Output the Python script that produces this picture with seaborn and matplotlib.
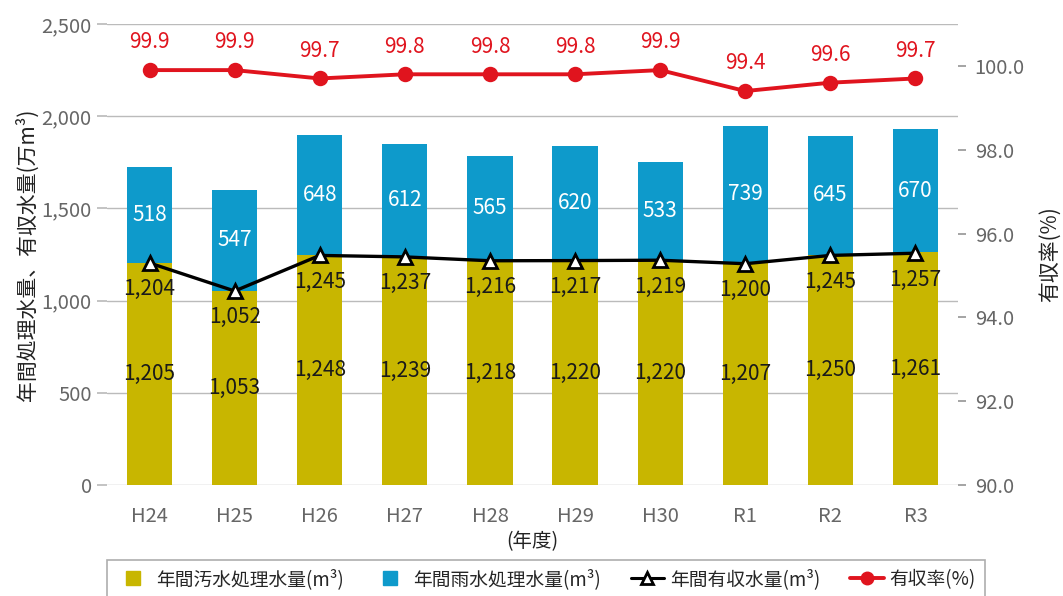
import matplotlib
matplotlib.use("Agg")
import matplotlib.pyplot as plt
import seaborn as sns
import numpy as np
from matplotlib.lines import Line2D
from matplotlib.ticker import FuncFormatter, FixedLocator

years = ["H24", "H25", "H26", "H27", "H28", "H29", "H30", "R1", "R2", "R3"]
sewage = [1205, 1053, 1248, 1239, 1218, 1220, 1220, 1207, 1250, 1261]
rain = [518, 547, 648, 612, 565, 620, 533, 739, 645, 670]
revenue = [1204, 1052, 1245, 1237, 1216, 1217, 1219, 1200, 1245, 1257]
rate = [99.9, 99.9, 99.7, 99.8, 99.8, 99.8, 99.9, 99.4, 99.6, 99.7]

left_ticks = [0, 500, 1000, 1500, 2000, 2500]
right_ticks = [90, 92, 94, 96, 98, 100]

YELLOW = "#C8B600"
BLUE = "#0E9ACB"
RED = "#E0141E"
GRAY = "#666666"

sns.set_theme(style="white")
plt.rcParams["font.family"] = ["Noto Sans CJK JP", "DejaVu Sans"]

fig = plt.figure(figsize=(10.63, 5.96), dpi=100)
ax = fig.add_axes([107 / 1063, 1 - 485 / 596, (958 - 107) / 1063, (485 - 24) / 596])

total = [s + r for s, r in zip(sewage, rain)]
sns.barplot(x=years, y=total, color=BLUE, saturation=1, width=0.53, ax=ax, zorder=2,
            errorbar=None, linewidth=0, edgecolor="none")
sns.barplot(x=years, y=sewage, color=YELLOW, saturation=1, width=0.53, ax=ax, zorder=2,
            errorbar=None, linewidth=0, edgecolor="none")
sns.pointplot(x=years, y=revenue, color="black", markers="^", linestyles="-", ax=ax,
              errorbar=None, linewidth=2.4, markersize=10, markerfacecolor="white",
              markeredgecolor="black", markeredgewidth=2, zorder=4)

ax.set_ylim(0, 2500)
ax.set_xlim(-0.5, 9.5)
ax.yaxis.set_major_locator(FixedLocator(left_ticks))
ax.yaxis.set_major_formatter(FuncFormatter(lambda v, p: f"{int(v):,}"))
ax.grid(axis="y", color="#BBBBBB", linewidth=1)
ax.set_axisbelow(True)
for s in ax.spines.values():
    s.set_visible(False)
ax.tick_params(axis="y", which="both", left=True, length=7, color="#BBBBBB", labelsize=14.5,
               labelcolor=GRAY, pad=4)
ax.tick_params(axis="x", bottom=False, labelsize=14.5, labelcolor=GRAY, pad=9)
ax.set_ylabel("年間処理水量、有収水量(万m³)", fontsize=15, color="#222222", labelpad=2)
ax.set_xlabel("(年度)", fontsize=14, color="#222222", labelpad=3)

for i in range(len(years)):
    ax.text(i, sewage[i] / 2, f"{sewage[i]:,}", ha="center", va="center", fontsize=15,
            color="#1a1a1a", zorder=5)
    ax.text(i, sewage[i] + rain[i] / 2, f"{rain[i]}", ha="center", va="center", fontsize=15,
            color="white", zorder=5)
    ax.annotate(f"{revenue[i]:,}", (i, revenue[i]), xytext=(0, -19), textcoords="offset points",
                ha="center", va="center", fontsize=15, color="#1a1a1a", zorder=5)

ax2 = ax.twinx()
sns.pointplot(x=years, y=rate, color=RED, markers="o", linestyles="-", ax=ax2,
              errorbar=None, linewidth=2.8, markersize=9, zorder=4)
ax2.set_ylim(90, 101)
ax2.set_xlim(-0.5, 9.5)
ax2.yaxis.set_major_locator(FixedLocator(right_ticks))
ax2.yaxis.set_major_formatter(FuncFormatter(lambda v, p: f"{v:.1f}"))
for s in ax2.spines.values():
    s.set_visible(False)
ax2.tick_params(axis="y", right=True, length=6, color="#999999", labelsize=14.5,
                labelcolor=GRAY, pad=6)
ax2.set_ylabel("有収率(%)", fontsize=15, color="#222222", labelpad=10)
ax2.grid(False)
for i in range(len(years)):
    ax2.annotate(f"{rate[i]:.1f}", (i, rate[i]), xytext=(0, 20), textcoords="offset points",
                 ha="center", va="center", fontsize=15, color=RED)

handles = [
    Line2D([0], [0], color=YELLOW, marker="s", linestyle="none", markersize=10,
           label="年間汚水処理水量(m³)"),
    Line2D([0], [0], color=BLUE, marker="s", linestyle="none", markersize=10,
           label="年間雨水処理水量(m³)"),
    Line2D([0], [0], color="black", marker="^", markerfacecolor="white", markeredgecolor="black",
           markeredgewidth=2, markersize=9, linewidth=2.2, label="年間有収水量(m³)"),
    Line2D([0], [0], color=RED, marker="o", markersize=9, linewidth=2.8, label="有収率(%)"),
]
leg = fig.legend(handles=handles, loc="lower center", bbox_to_anchor=(546 / 1063, -0.015), ncol=4,
                 frameon=True, fancybox=False, edgecolor="#999999", fontsize=13.5,
                 handlelength=1.8, handletextpad=0.3, columnspacing=1.6, borderpad=0.5,
                 borderaxespad=0.3)
leg.get_frame().set_linewidth(1.2)

fig.savefig("out.png", dpi=100)
